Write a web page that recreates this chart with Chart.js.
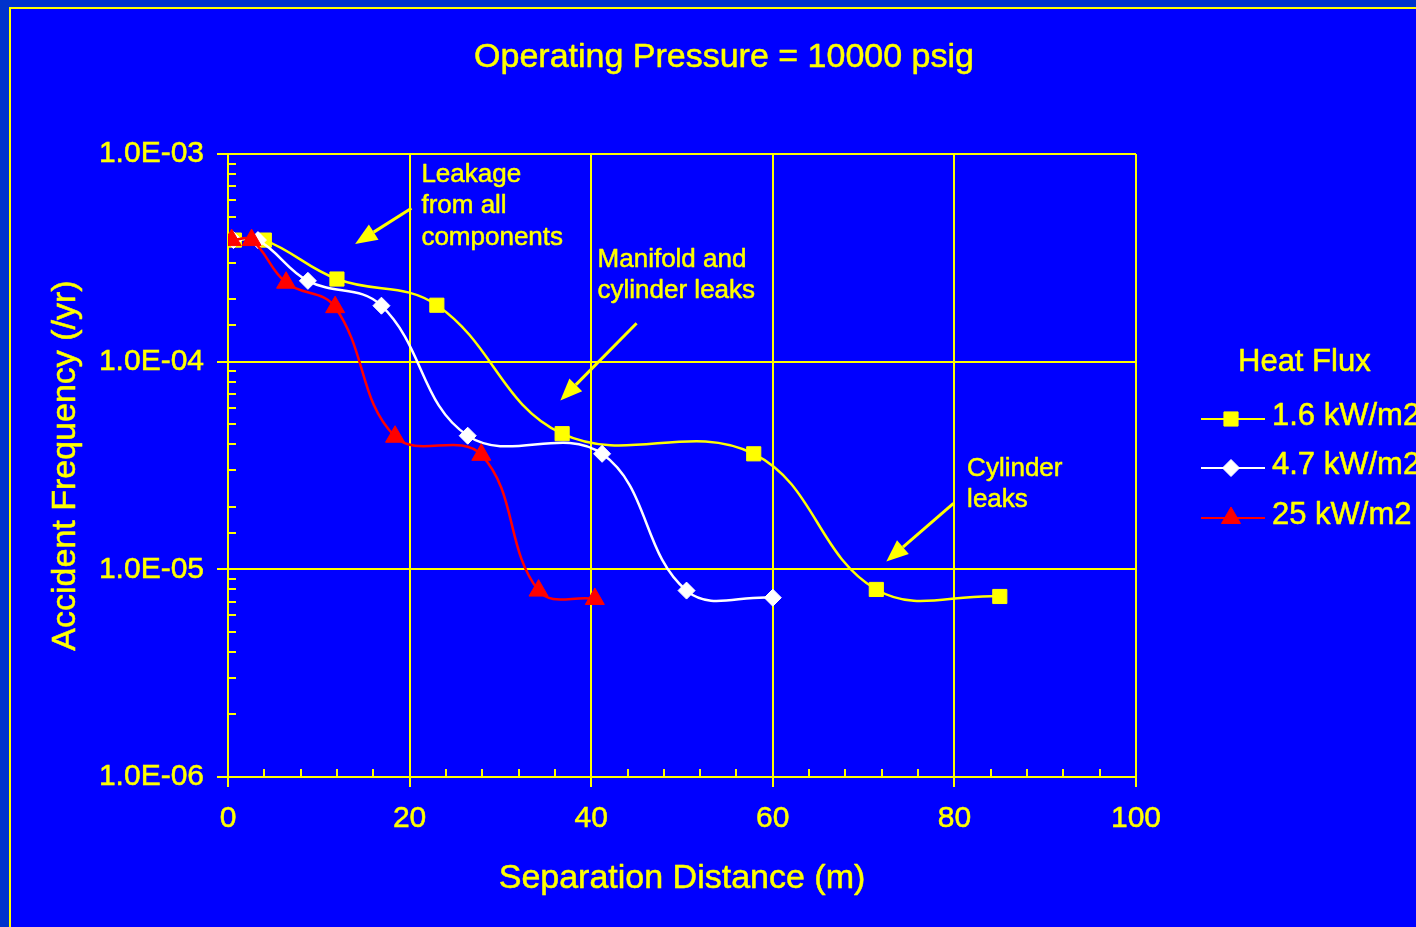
<!DOCTYPE html>
<html>
<head>
<meta charset="utf-8">
<script src="https://cdn.jsdelivr.net/npm/chart.js@4.4.1/dist/chart.umd.min.js"></script>
<style>
  html, body { margin: 0; padding: 0; background: #0000ff; overflow: hidden; }
  canvas { display: block; }
</style>
</head>
<body>
<canvas id="c" width="1416" height="927"></canvas>
<script>
const FONT = '"Liberation Sans", Arial, Helvetica, sans-serif';
const YELLOW = '#ffff00';
const TEXT_WEIGHT = 0.5;

// Separation distance (m) and accident frequency (/yr) for each heat-flux level
const flux16Dist = [0.7, 4.0, 12.0, 23.0, 36.8, 57.9, 71.4, 85.0];
const flux16Freq = [3.85e-4, 3.85e-4, 2.5e-4, 1.87e-4, 4.5e-5, 3.6e-5, 8.0e-6, 7.4e-6];
const flux47Dist = [0.6, 3.3, 8.8, 16.9, 26.4, 41.2, 50.5, 60.0];
const flux47Freq = [3.85e-4, 3.85e-4, 2.45e-4, 1.86e-4, 4.4e-5, 3.6e-5, 7.9e-6, 7.3e-6];
const flux25Dist = [0.4, 2.6, 6.4, 11.8, 18.4, 27.9, 34.2, 40.4];
const flux25Freq = [3.85e-4, 3.85e-4, 2.4e-4, 1.83e-4, 4.35e-5, 3.56e-5, 7.9e-6, 7.2e-6];
const seriesNames = ['1.6 kW/m2', '4.7 kW/m2', '25 kW/m2'];

// Axis ticks
const xTickValues = [0, 20, 40, 60, 80, 100];
const xTickLabels = ['0', '20', '40', '60', '80', '100'];
const xMinorStep = 4;
const yTickValues = [1e-6, 1e-5, 1e-4, 1e-3];
const yTickLabels = ['1.0E-06', '1.0E-05', '1.0E-04', '1.0E-03'];

// Callouts, anchored in data space (distance, frequency)
const callouts = [
  { lines: ['Leakage', 'from all', 'components'], at: [21.3, 7.36e-4], from: [20.2, 5.48e-4], to: [14.0, 3.69e-4] },
  { lines: ['Manifold and', 'cylinder leaks'], at: [40.7, 2.87e-4], from: [45.0, 1.53e-4], to: [36.6, 6.5e-5] },
  { lines: ['Cylinder', 'leaks'], at: [81.4, 2.82e-5], from: [79.9, 2.08e-5], to: [72.5, 1.09e-5] }
];

const pairs = (xs, ys) => xs.map((v, i) => ({ x: v, y: ys[i] }));
const isDecade = v => Math.abs(Math.log10(v) - Math.round(Math.log10(v))) < 1e-6;
const isXMajor = v => xTickValues.some(t => Math.abs(t - v) < 1e-6);

const seriesStyles = [
  { color: '#ffff00', pointStyle: 'rect', radius: 10 },
  { color: '#ffffff', pointStyle: 'rectRot', radius: 8.5 },
  { color: '#ff0000', pointStyle: 'triangle', radius: 11 }
];

function makeDataset(i, data, order) {
  const s = seriesStyles[i];
  return {
    label: seriesNames[i],
    data,
    order,
    borderColor: s.color,
    backgroundColor: s.color,
    borderWidth: 2.5,
    tension: 0.4,
    pointStyle: s.pointStyle,
    pointRadius: s.radius,
    pointBorderWidth: 1,
    pointBackgroundColor: s.color,
    pointBorderColor: s.color,
    fill: false
  };
}

const backdrop = {
  id: 'backdrop',
  beforeDraw(chart) {
    const { ctx, width, height } = chart;
    ctx.save();
    ctx.fillStyle = '#0033cc';
    ctx.fillRect(0, 0, width, height);
    ctx.fillStyle = '#0000ff';
    ctx.fillRect(9, 7, width - 9, height - 7);
    ctx.strokeStyle = YELLOW;
    ctx.lineWidth = 2;
    ctx.beginPath();
    ctx.moveTo(10, height);
    ctx.lineTo(10, 8);
    ctx.lineTo(width, 8);
    ctx.stroke();
    ctx.restore();
  }
};

// Short inward tick marks for the minor ticks
const minorTicks = {
  id: 'minorTicks',
  beforeDatasetsDraw(chart) {
    const { ctx, chartArea: a, scales: { x, y } } = chart;
    ctx.save();
    ctx.strokeStyle = YELLOW;
    ctx.lineWidth = 2;
    ctx.beginPath();
    x.ticks.forEach(t => {
      if (!isXMajor(t.value)) {
        const px = Math.round(x.getPixelForValue(t.value));
        ctx.moveTo(px, a.bottom);
        ctx.lineTo(px, a.bottom - 8);
      }
    });
    y.ticks.forEach(t => {
      if (!isDecade(t.value)) {
        const py = Math.round(y.getPixelForValue(t.value));
        ctx.moveTo(a.left, py);
        ctx.lineTo(a.left + 8, py);
      }
    });
    ctx.stroke();
    ctx.restore();
  }
};

function drawArrow(ctx, x1, y1, x2, y2) {
  const ang = Math.atan2(y2 - y1, x2 - x1);
  const len = 22, half = 9;
  const bx = x2 - Math.cos(ang) * len, by = y2 - Math.sin(ang) * len;
  ctx.beginPath();
  ctx.moveTo(x1, y1);
  ctx.lineTo(bx, by);
  ctx.stroke();
  ctx.beginPath();
  ctx.moveTo(x2, y2);
  ctx.lineTo(bx + Math.sin(ang) * half, by - Math.cos(ang) * half);
  ctx.lineTo(bx - Math.sin(ang) * half, by + Math.cos(ang) * half);
  ctx.closePath();
  ctx.fill();
}

function drawMarker(ctx, style, x, y) {
  ctx.fillStyle = style.color;
  ctx.strokeStyle = style.color;
  ctx.lineWidth = 1;
  Chart.helpers.drawPoint(ctx, { pointStyle: style.pointStyle, radius: style.radius, rotation: 0, borderWidth: 1 }, x, y);
}

// Text with a hairline outline so the glyphs read a little heavier
function heavyText(ctx, str, x, y) {
  ctx.lineWidth = TEXT_WEIGHT;
  ctx.fillText(str, x, y);
  ctx.strokeText(str, x, y);
}

const texts = {
  id: 'texts',
  afterDraw(chart) {
    const { ctx, chartArea: a, scales: { x, y } } = chart;
    ctx.save();
    ctx.fillStyle = YELLOW;
    ctx.strokeStyle = YELLOW;
    ctx.lineJoin = 'round';
    ctx.textBaseline = 'alphabetic';

    // Title
    ctx.font = '34px ' + FONT;
    ctx.textAlign = 'center';
    heavyText(ctx, 'Operating Pressure = 10000 psig', 724, 67);

    // Axis titles
    heavyText(ctx, 'Separation Distance (m)', (a.left + a.right) / 2, 888);
    ctx.save();
    ctx.translate(75, (a.top + a.bottom) / 2);
    ctx.rotate(-Math.PI / 2);
    heavyText(ctx, 'Accident Frequency (/yr)', 0, 0);
    ctx.restore();

    // Callouts
    ctx.font = '26px ' + FONT;
    ctx.textAlign = 'left';
    callouts.forEach(c => {
      const tx = x.getPixelForValue(c.at[0]);
      const ty = y.getPixelForValue(c.at[1]);
      c.lines.forEach((ln, i) => heavyText(ctx, ln, tx, ty + i * 31.5));
      ctx.lineWidth = 3;
      drawArrow(ctx,
        x.getPixelForValue(c.from[0]), y.getPixelForValue(c.from[1]),
        x.getPixelForValue(c.to[0]), y.getPixelForValue(c.to[1]));
    });

    // Legend
    ctx.font = '31px ' + FONT;
    ctx.textAlign = 'left';
    heavyText(ctx, 'Heat Flux', 1238, 371);
    const rows = [419, 468, 518];
    seriesNames.forEach((name, i) => {
      const s = seriesStyles[i];
      const ry = rows[i];
      ctx.strokeStyle = s.color;
      ctx.lineWidth = 2;
      ctx.beginPath();
      ctx.moveTo(1201, ry);
      ctx.lineTo(1265, ry);
      ctx.stroke();
      drawMarker(ctx, s, 1231, ry);
      ctx.fillStyle = YELLOW;
      ctx.strokeStyle = YELLOW;
      ctx.font = '31px ' + FONT;
      heavyText(ctx, name, 1272, ry + 6);
    });
    ctx.restore();
  }
};

const tickFont = { family: FONT, size: 30 };

new Chart(document.getElementById('c'), {
  type: 'line',
  data: {
    datasets: [
      makeDataset(0, pairs(flux16Dist, flux16Freq), 2),
      makeDataset(1, pairs(flux47Dist, flux47Freq), 1),
      makeDataset(2, pairs(flux25Dist, flux25Freq), 0)
    ]
  },
  options: {
    responsive: false,
    devicePixelRatio: 1,
    animation: false,
    events: [],
    layout: { padding: { left: 0, top: 154, right: 280, bottom: 0 } },
    plugins: { legend: { display: false }, tooltip: { enabled: false }, title: { display: false } },
    scales: {
      x: {
        type: 'linear',
        min: 0,
        max: 100,
        afterFit(s) { s.height = 150; },
        afterBuildTicks(s) {
          const t = [];
          for (let v = 0; v <= 100; v += xMinorStep) t.push({ value: v });
          s.ticks = t;
        },
        ticks: {
          autoSkip: false,
          maxRotation: 0,
          color: YELLOW,
          textStrokeColor: YELLOW,
          textStrokeWidth: TEXT_WEIGHT,
          font: tickFont,
          padding: 14,
          callback(v) {
            const i = xTickValues.findIndex(t => Math.abs(t - v) < 1e-6);
            return i >= 0 ? xTickLabels[i] : '';
          }
        },
        grid: {
          color: c => (c.tick && isXMajor(c.tick.value)) ? YELLOW : 'rgba(0,0,0,0)',
          tickColor: c => (c.tick && isXMajor(c.tick.value)) ? YELLOW : 'rgba(0,0,0,0)',
          lineWidth: 2,
          tickWidth: 2,
          tickLength: 10
        },
        border: { color: YELLOW, width: 2 }
      },
      y: {
        type: 'logarithmic',
        min: 1e-6,
        max: 1e-3,
        afterFit(s) { s.width = 228; },
        ticks: {
          autoSkip: false,
          color: YELLOW,
          textStrokeColor: YELLOW,
          textStrokeWidth: TEXT_WEIGHT,
          font: tickFont,
          padding: 13,
          callback(v) {
            const i = yTickValues.findIndex(t => Math.abs(Math.log10(t) - Math.log10(v)) < 1e-6);
            return i >= 0 ? yTickLabels[i] : '';
          }
        },
        grid: {
          color: c => (c.tick && isDecade(c.tick.value)) ? YELLOW : 'rgba(0,0,0,0)',
          tickColor: c => (c.tick && isDecade(c.tick.value)) ? YELLOW : 'rgba(0,0,0,0)',
          lineWidth: 2,
          tickWidth: 2,
          tickLength: 11
        },
        border: { color: YELLOW, width: 2 }
      }
    }
  },
  plugins: [backdrop, minorTicks, texts]
});
</script>
</body>
</html>
